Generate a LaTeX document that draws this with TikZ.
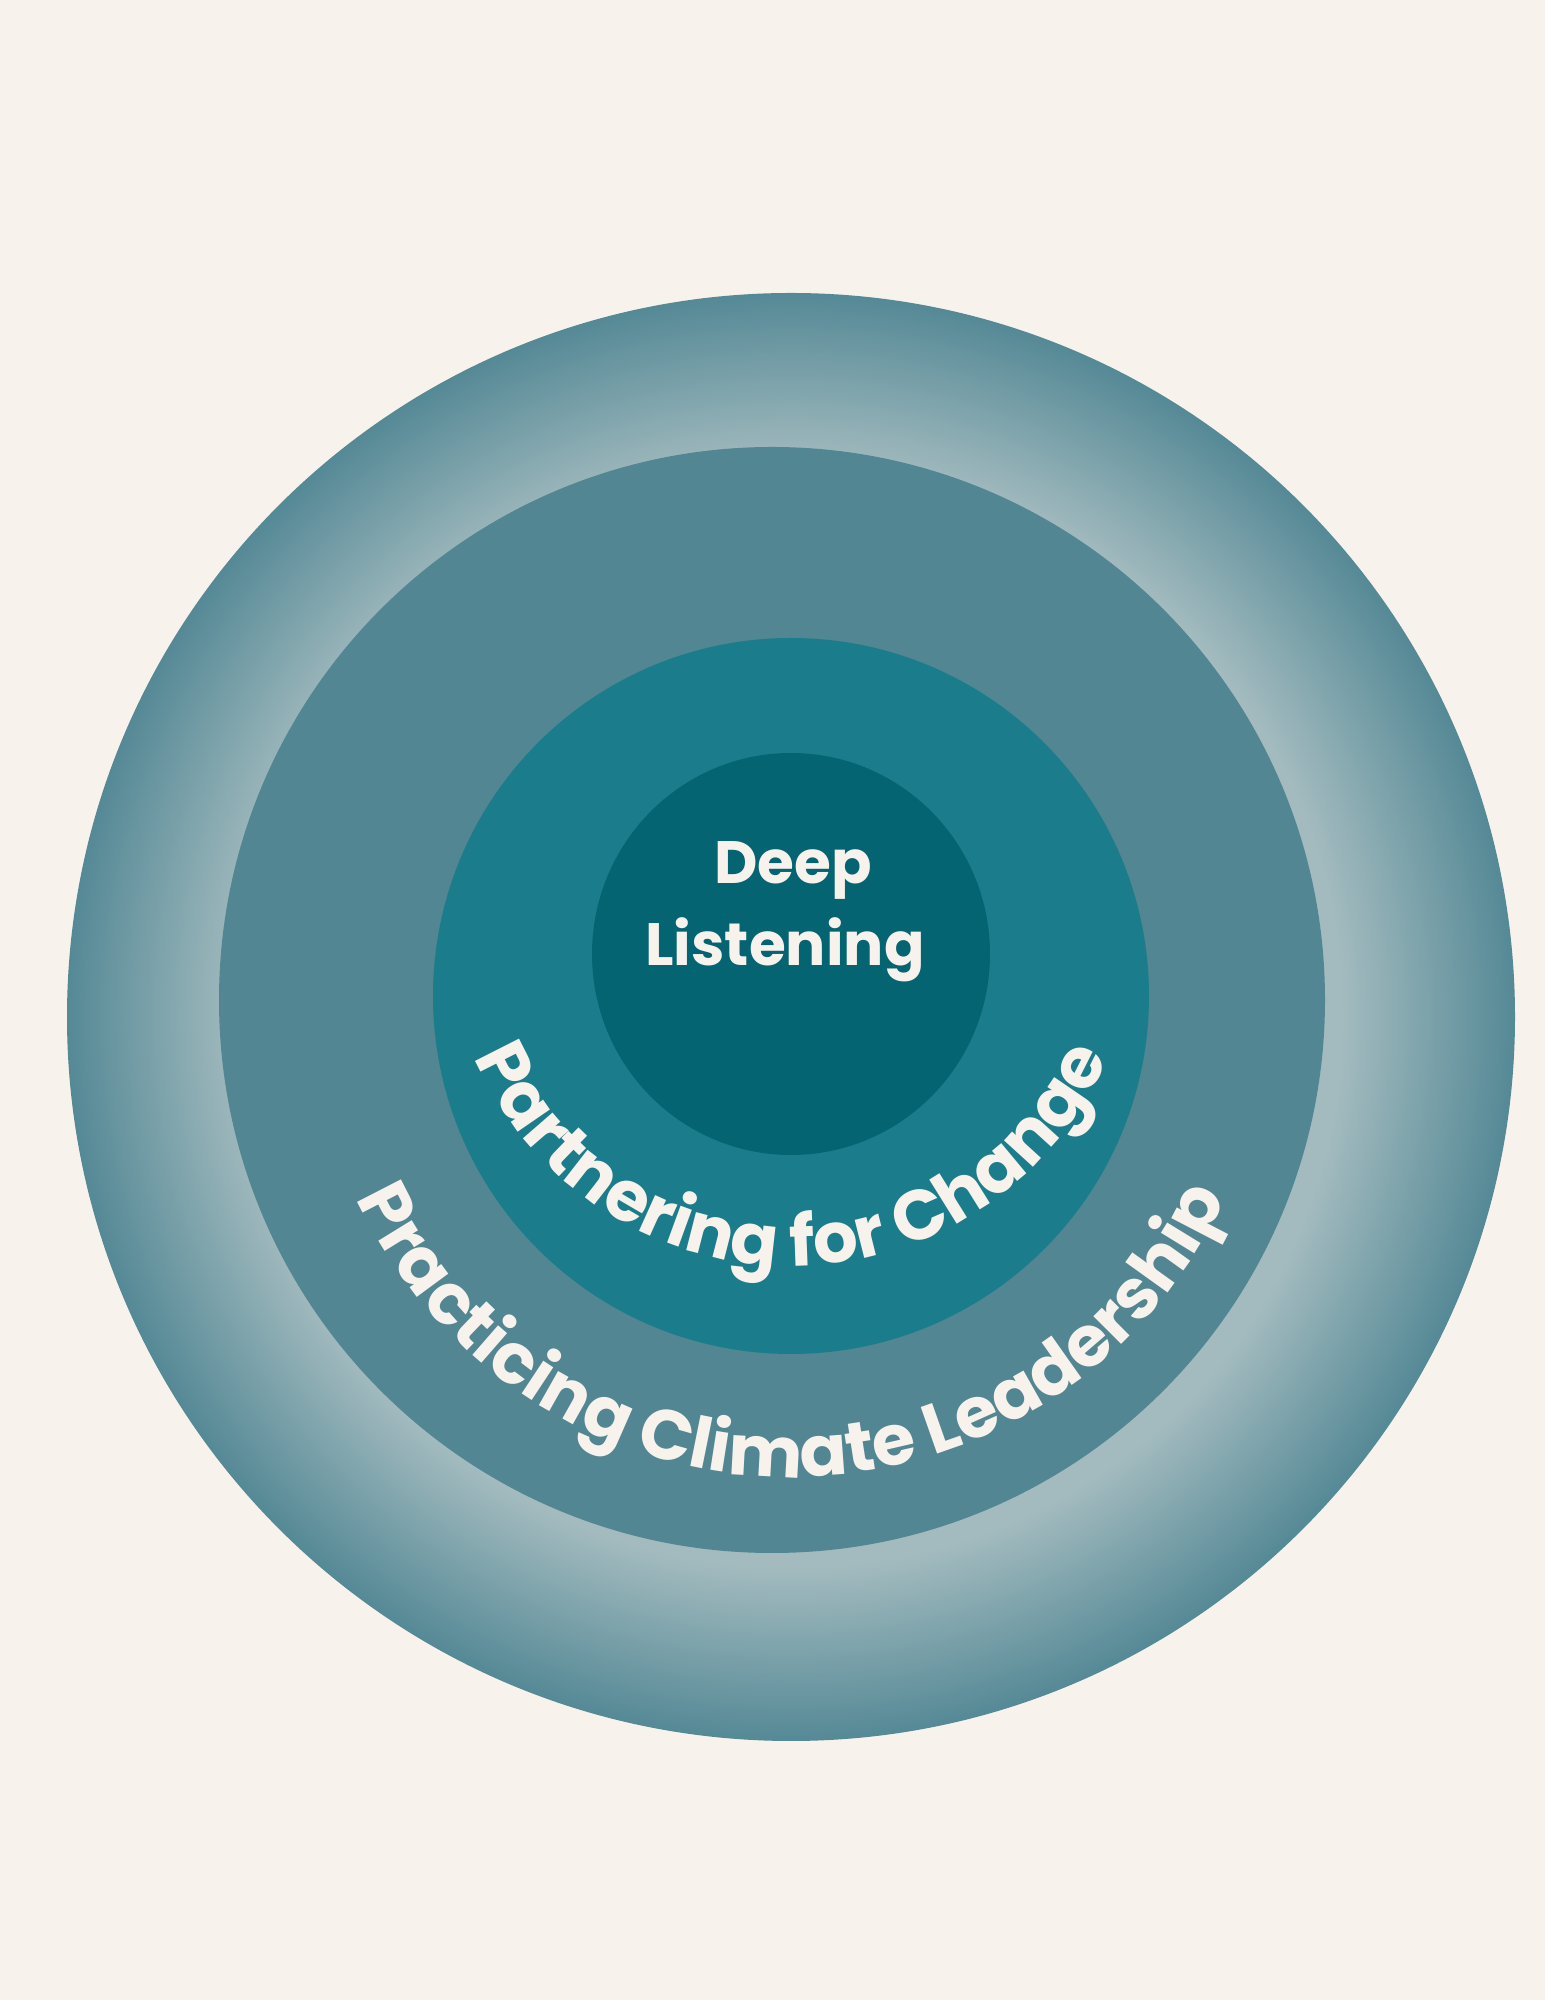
\documentclass[tikz,border=0pt]{standalone}
\usepackage{fontspec}
\newfontfamily\ringfont{Poppins}
\usetikzlibrary{decorations.text}
\definecolor{paper}{HTML}{F7F3EC}
\definecolor{cream}{HTML}{F7F3EC}
\definecolor{ringdark}{HTML}{558996}
\definecolor{ringlight}{HTML}{A3BBBF}
\definecolor{bandteal}{HTML}{528693}
\definecolor{midteal}{HTML}{1B7D8B}
\definecolor{coreteal}{HTML}{046472}
\pgfdeclareradialshading{outerring}{\pgfpoint{0bp}{0bp}}{color(0bp)=(ringlight); color(19bp)=(ringlight); color(25bp)=(ringdark); color(50bp)=(ringdark)}
\newcommand{\curvefont}{\ringfont\bfseries\fontsize{20}{24}\selectfont}
\tikzset{
  centre text/.style={text=cream, font=\ringfont\bfseries\fontsize{17}{21}\selectfont, inner sep=0pt},
  curved label/.style={decorate, decoration={text along path, text align=center, text color=cream, text={|\curvefont|#1}}}
}
\begin{document}
\begin{tikzpicture}
    \useasboundingbox[fill=paper] (0,0) rectangle (15.45,20);
    %% rings
    \shade[shading=outerring] (7.91,9.83) circle[radius=7.24];
    \fill[bandteal] (7.72,10.00) circle[radius=5.53];
    \fill[midteal] (7.91,10.04) circle[radius=3.58];
    \fill[coreteal] (7.91,10.46) ellipse[x radius=1.99, y radius=2.01];
    %% centre label
    \node[centre text, anchor=base] (deep) at (7.93,11.16) {Deep};
    \node[centre text, anchor=base] (listening) at (7.85,10.34) {Listening};
    %% curved labels
    \coordinate (pc) at (7.91,10.79);
    \coordinate (lc) at (7.91,10.01);
    \path[curved label={Partnering for Change}] ([shift={(190:3.45)}]pc) arc[start angle=190, end angle=350, radius=3.45];
    \path[curved label={Practicing Climate Leadership}] ([shift={(190:4.78)}]lc) arc[start angle=190, end angle=350, radius=4.78];
\end{tikzpicture}
\end{document}
